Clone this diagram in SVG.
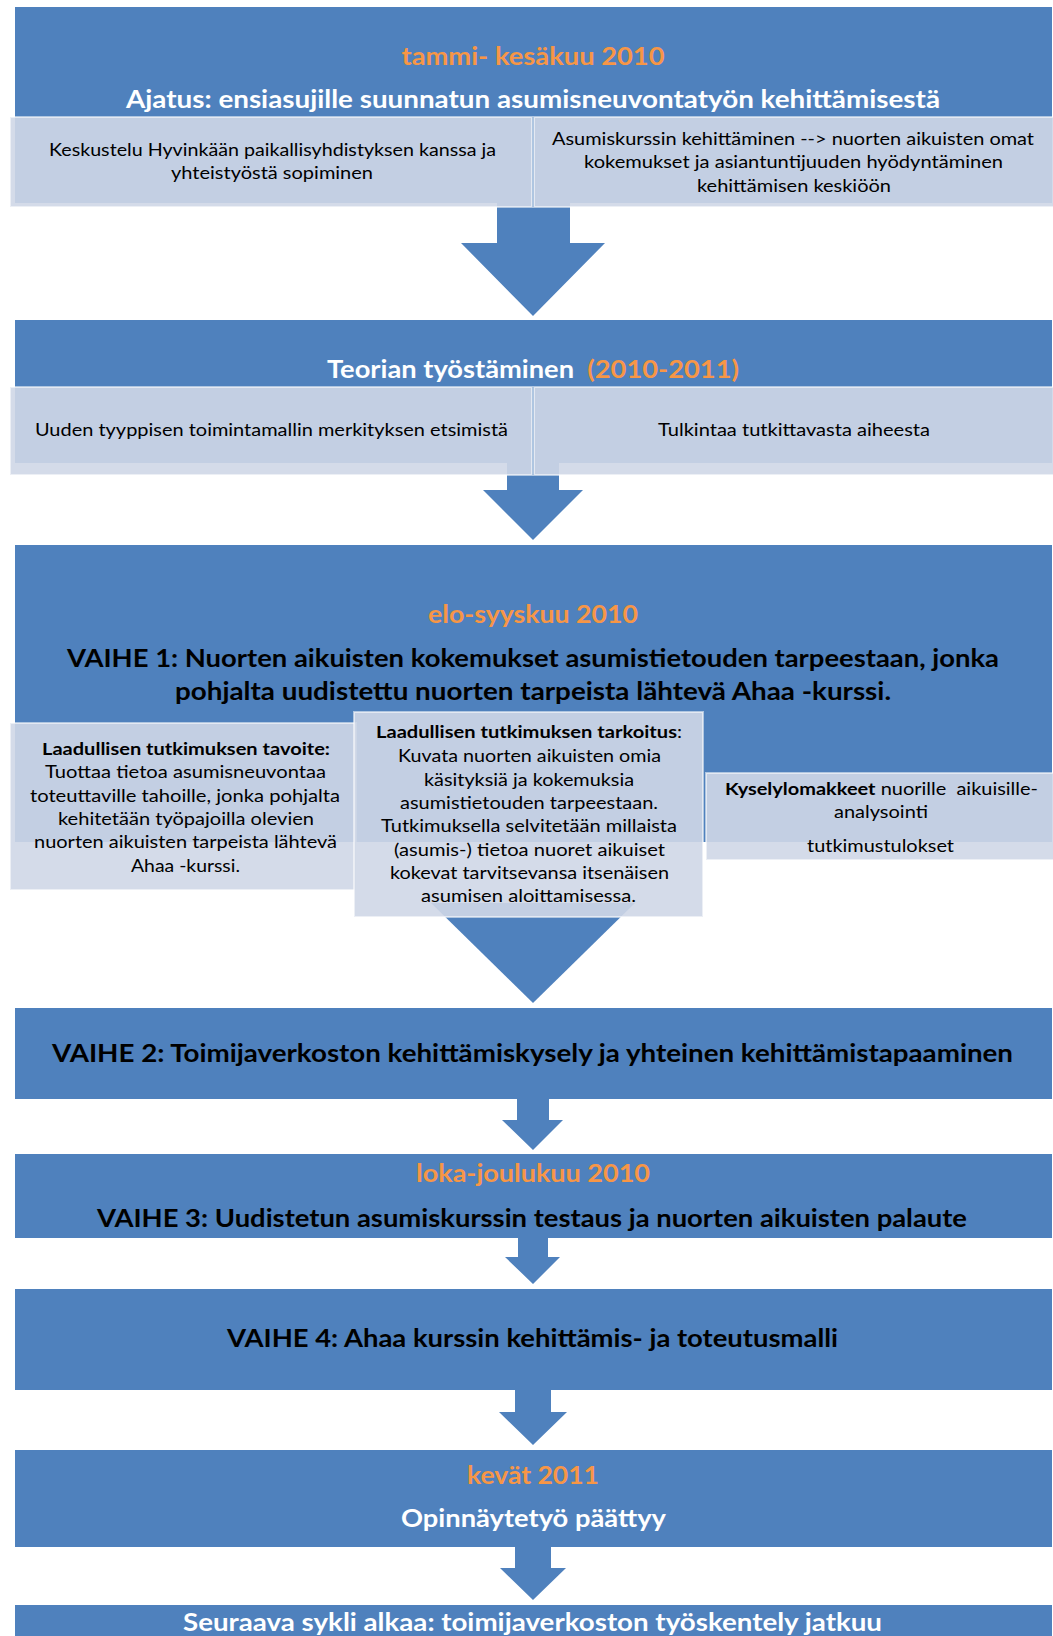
<svg xmlns="http://www.w3.org/2000/svg" width="1053" height="1636" viewBox="0 0 1053 1636">
<style>
.bg{fill:#ffffff}
.blue{fill:#4f81bd}
.arrow{fill:#4f81bd}
.lite{fill:#cfd7e7;fill-opacity:0.9;stroke:#ffffff;stroke-opacity:0.55;stroke-width:2}
text{font-family:Lato,"Liberation Sans",sans-serif;text-anchor:middle}
.t{font-size:24px;font-weight:bold}
.w{fill:#ffffff}
.o{fill:#f79646}
.k{fill:#000000}
.b{font-size:16.8px;fill:#000000}
.bb{font-weight:bold}
</style>
<rect class="bg" x="0" y="0" width="1053" height="1636"/>

<g id="connectors">
  <polygon class="arrow" points="497,203 570,203 570,243 605,243 533,316 461,243 497,243"/>
  <polygon class="arrow" points="507,463 559,463 559,490 583,490 533,540 483,490 507,490"/>
  <polygon class="arrow" points="431,903 635,903 533,1003"/>
  <polygon class="arrow" points="517,1099 549,1099 549,1120 563,1120 533,1150 502,1120 517,1120"/>
  <polygon class="arrow" points="518,1238 548,1238 548,1257 560,1257 533,1284 505,1257 518,1257"/>
  <polygon class="arrow" points="515,1390 551,1390 551,1412 567,1412 533,1445 499,1412 515,1412"/>
  <polygon class="arrow" points="515,1547 551,1547 551,1568 566,1568 533,1600 500,1568 515,1568"/>
</g>

<g id="node1">
  <rect class="blue" x="15" y="7" width="1037" height="196"/>
  <text class="t o" x="533" y="65" textLength="263" lengthAdjust="spacingAndGlyphs">tammi- kesäkuu 2010</text>
  <text class="t w" x="533" y="108" textLength="814" lengthAdjust="spacingAndGlyphs">Ajatus: ensiasujille suunnatun asumisneuvontatyön kehittämisestä</text>
</g>
<g id="node1a">
  <rect class="lite" x="10" y="117" width="522" height="90"/>
  <text class="b" x="272.5" y="156" textLength="447" lengthAdjust="spacingAndGlyphs">Keskustelu Hyvinkään paikallisyhdistyksen kanssa ja</text>
  <text class="b" x="272" y="179" textLength="202" lengthAdjust="spacingAndGlyphs">yhteistyöstä sopiminen</text>
</g>
<g id="node1b">
  <rect class="lite" x="534" y="117" width="525" height="90"/>
  <text class="b" x="793" y="145" textLength="482" lengthAdjust="spacingAndGlyphs">Asumiskurssin kehittäminen --&gt; nuorten aikuisten omat</text>
  <text class="b" x="793.5" y="168" textLength="419" lengthAdjust="spacingAndGlyphs">kokemukset ja asiantuntijuuden hyödyntäminen</text>
  <text class="b" x="794" y="192" textLength="194" lengthAdjust="spacingAndGlyphs">kehittämisen keskiöön</text>
</g>

<g id="node2">
  <rect class="blue" x="15" y="320" width="1037" height="143"/>
  <text class="t w" x="533" y="378" textLength="412" lengthAdjust="spacingAndGlyphs">Teorian työstäminen&#160; <tspan class="o">(2010-2011)</tspan></text>
</g>
<g id="node2a">
  <rect class="lite" x="10" y="387" width="522" height="88"/>
  <text class="b" x="271.5" y="436" textLength="473" lengthAdjust="spacingAndGlyphs">Uuden tyyppisen toimintamallin merkityksen etsimistä</text>
</g>
<g id="node2b">
  <rect class="lite" x="534" y="387" width="525" height="88"/>
  <text class="b" x="794" y="436" textLength="272" lengthAdjust="spacingAndGlyphs">Tulkintaa tutkittavasta aiheesta</text>
</g>

<g id="node3">
  <rect class="blue" x="15" y="545" width="1037" height="297"/>
  <text class="t o" x="533" y="623" textLength="210" lengthAdjust="spacingAndGlyphs">elo-syyskuu 2010</text>
  <text class="t k" x="533" y="667" textLength="932" lengthAdjust="spacingAndGlyphs">VAIHE 1: Nuorten aikuisten kokemukset asumistietouden tarpeestaan, jonka</text>
  <text class="t k" x="533" y="700" textLength="716" lengthAdjust="spacingAndGlyphs">pohjalta uudistettu nuorten tarpeista lähtevä Ahaa -kurssi.</text>
</g>
<g id="node3a">
  <rect class="lite" x="10" y="723" width="346" height="167"/>
  <text class="b bb" x="186" y="755" textLength="288" lengthAdjust="spacingAndGlyphs">Laadullisen tutkimuksen tavoite:</text>
  <text class="b" x="185.5" y="778" textLength="281" lengthAdjust="spacingAndGlyphs">Tuottaa tietoa asumisneuvontaa</text>
  <text class="b" x="185" y="802" textLength="310" lengthAdjust="spacingAndGlyphs">toteuttaville tahoille, jonka pohjalta</text>
  <text class="b" x="186" y="825" textLength="256" lengthAdjust="spacingAndGlyphs">kehitetään työpajoilla olevien</text>
  <text class="b" x="185.5" y="848" textLength="303" lengthAdjust="spacingAndGlyphs">nuorten aikuisten tarpeista lähtevä</text>
  <text class="b" x="185.5" y="872" textLength="109" lengthAdjust="spacingAndGlyphs">Ahaa -kurssi.</text>
</g>
<g id="node3b">
  <rect class="lite" x="354" y="712" width="349" height="205"/>
  <text class="b" x="529" y="738" textLength="306" lengthAdjust="spacingAndGlyphs"><tspan class="bb">Laadullisen tutkimuksen tarkoitus</tspan>:</text>
  <text class="b" x="529.5" y="762" textLength="263" lengthAdjust="spacingAndGlyphs">Kuvata nuorten aikuisten omia</text>
  <text class="b" x="529" y="786" textLength="210" lengthAdjust="spacingAndGlyphs">käsityksiä ja kokemuksia</text>
  <text class="b" x="529" y="809" textLength="258" lengthAdjust="spacingAndGlyphs">asumistietouden tarpeestaan.</text>
  <text class="b" x="529" y="832" textLength="296" lengthAdjust="spacingAndGlyphs">Tutkimuksella selvitetään millaista</text>
  <text class="b" x="529.5" y="856" textLength="271" lengthAdjust="spacingAndGlyphs">(asumis-) tietoa nuoret aikuiset</text>
  <text class="b" x="529.5" y="879" textLength="279" lengthAdjust="spacingAndGlyphs">kokevat tarvitsevansa itsenäisen</text>
  <text class="b" x="528.5" y="902" textLength="215" lengthAdjust="spacingAndGlyphs">asumisen aloittamisessa.</text>
</g>
<g id="node3c">
  <rect class="lite" x="706" y="773" width="353" height="87"/>
  <text class="b" x="881.5" y="795" textLength="313" lengthAdjust="spacingAndGlyphs"><tspan class="bb">Kyselylomakkeet</tspan> nuorille&#160; aikuisille-</text>
  <text class="b" x="881" y="818" textLength="94" lengthAdjust="spacingAndGlyphs">analysointi</text>
  <text class="b" x="880.5" y="852" textLength="147" lengthAdjust="spacingAndGlyphs">tutkimustulokset</text>
</g>

<g id="node4">
  <rect class="blue" x="15" y="1008" width="1037" height="91"/>
  <text class="t k" x="532.5" y="1062" textLength="961" lengthAdjust="spacingAndGlyphs">VAIHE 2: Toimijaverkoston kehittämiskysely ja yhteinen kehittämistapaaminen</text>
</g>

<g id="node5">
  <rect class="blue" x="15" y="1154" width="1037" height="84"/>
  <text class="t o" x="533" y="1182" textLength="234" lengthAdjust="spacingAndGlyphs">loka-joulukuu 2010</text>
  <text class="t k" x="532" y="1227" textLength="870" lengthAdjust="spacingAndGlyphs">VAIHE 3: Uudistetun asumiskurssin testaus ja nuorten aikuisten palaute</text>
</g>

<g id="node6">
  <rect class="blue" x="15" y="1289" width="1037" height="101"/>
  <text class="t k" x="532.5" y="1347" textLength="611" lengthAdjust="spacingAndGlyphs">VAIHE 4: Ahaa kurssin kehittämis- ja toteutusmalli</text>
</g>

<g id="node7">
  <rect class="blue" x="15" y="1450" width="1037" height="97"/>
  <text class="t o" x="533" y="1484" textLength="132" lengthAdjust="spacingAndGlyphs">kevät 2011</text>
  <text class="t w" x="533.5" y="1527" textLength="265" lengthAdjust="spacingAndGlyphs">Opinnäytetyö päättyy</text>
</g>

<g id="node8">
  <rect class="blue" x="15" y="1605" width="1037" height="40"/>
  <text class="t w" x="532.5" y="1631" textLength="699" lengthAdjust="spacingAndGlyphs">Seuraava sykli alkaa: toimijaverkoston työskentely jatkuu</text>
</g>
</svg>
